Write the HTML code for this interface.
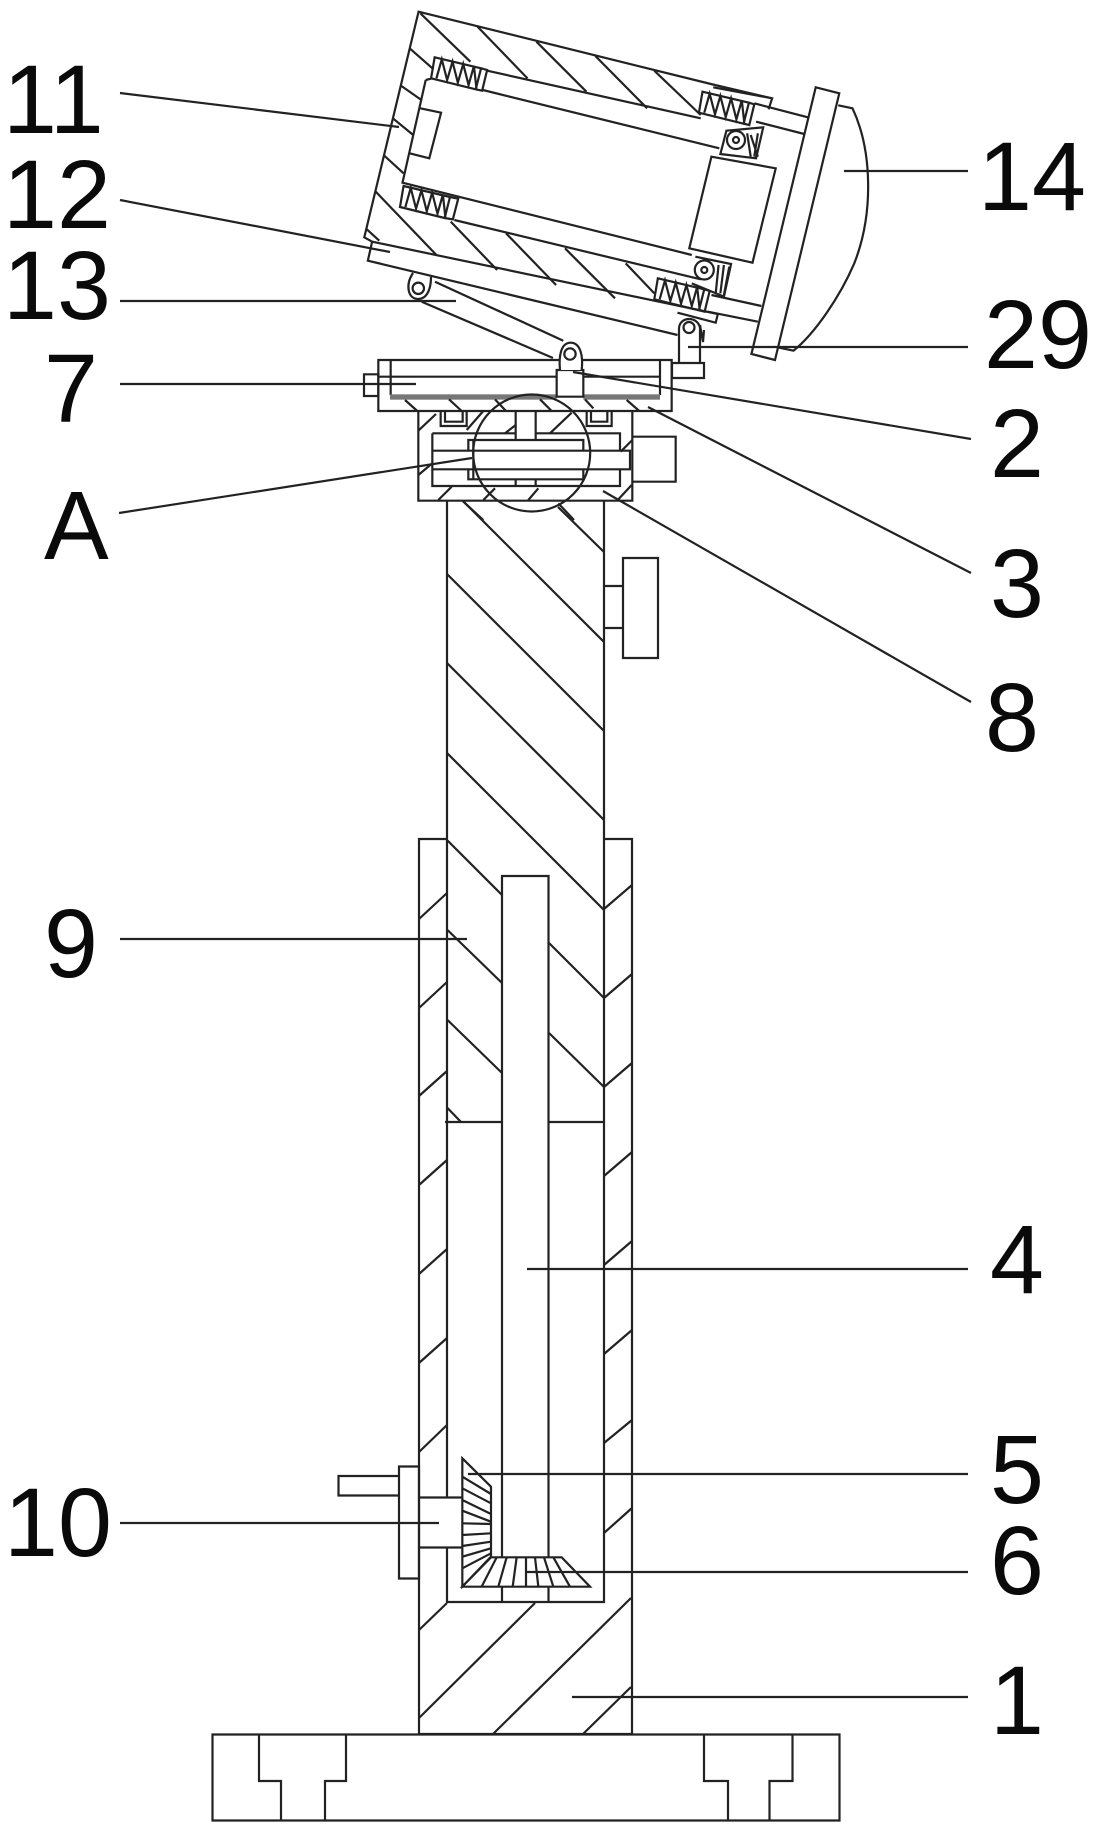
<!DOCTYPE html>
<html><head><meta charset="utf-8"><style>
html,body{margin:0;padding:0;background:#fff}
svg{display:block}
svg *{vector-effect:non-scaling-stroke}
.l{fill:none;stroke:#222;stroke-width:2.2;stroke-linejoin:miter}
.t{font-family:"Liberation Sans",sans-serif;font-size:97px;fill:#0a0a0a}
.ld{fill:none;stroke:#222;stroke-width:2.2}
</style></head><body>
<svg width="1100" height="1833" viewBox="0 0 1100 1833" xmlns="http://www.w3.org/2000/svg">
<rect width="1100" height="1833" fill="#fff"/>

<!-- Column and base -->
<g class="l">
<path d="M447,501V1497M447,1547V1602H604V501"/>
<path d="M419,1734V839H447M604,839H632V1734H419"/>
<path d="M502,1602V876H548.5V1602"/>
<path d="M445,1122H502M548,1122H604"/>
<path d="M212.5,1734.5H839.5V1820.5H212.5Z"/>
<path d="M259,1735V1781H281V1820M346,1735V1781H325V1820"/>
<path d="M704,1735V1781H728V1820M792.5,1735V1781H769.5V1820"/>
<!-- column hatch -->
<path d="M463,501L604,642M558,507L604,552M447,574L604,731M447,663L604,820M447,753L604,910M447.5,840.5L502,895M447.5,930L502,983M447.5,1020L502,1073M447.5,1108L461,1122M549,943L604,998M549,1033L604,1087"/>
<!-- outer wall hatch left -->
<path d="M419,919L447,893M419,1008L447,982M419,1096L447,1071M419,1185L447,1160M419,1274L447,1249M419,1363L447,1338M419,1452L447,1425M419,1630L447,1603"/>
<!-- outer wall hatch right -->
<path d="M604,909L632,885M604,998L632,974M604,1087L632,1063M604,1176L632,1152M604,1265L632,1241M604,1354L632,1330M604,1443L632,1420M604,1533L632,1508"/>
<!-- bottom hatch -->
<path d="M419,1718L535,1603M493,1734L631,1598M583,1734L631,1687"/>
<!-- knob on column -->
<path d="M604,586H623V628H604M623,558H658V658H623Z"/>
<!-- handle -->
<path d="M399,1466.5H419V1578.5H399ZM399,1476H338.5V1495.5H399M419,1497.5H462M419,1547.5H462"/>
</g>

<!-- Bevel gears in zoom coords -->
<g class="l" transform="translate(320,1420) scale(.33333)">
<path fill="#fff" d="M427,115L513,200V410L427,500Z"/>
<path fill="#fff" d="M427,500H810L725,412H513Z"/>
<path d="M427,170L513,222M427,205L513,250M427,240L513,282M427,272L513,305M427,310L513,312M427,345L513,340M427,378L513,365M427,410L513,385M427,445L513,400"/>
<path d="M485,500L530,412M535,500L560,412M578,500L590,412M618,500V412M655,500L645,412M700,500L672,412M750,500L700,412"/>
</g>

<!-- Platform and block, zoom 9 coords -->
<g class="l" transform="translate(370,340) scale(.33333)">
<path d="M25,60H905V213H25Z"/>
<path d="M62,60V165M870,60V165M25,110H560M640,110H870"/>
<path d="M-18,103H25V168H-18Z"/>
<rect x="60" y="163" width="500" height="16" fill="#777" stroke="none"/>
<rect x="640" y="163" width="230" height="16" fill="#777" stroke="none"/>
<path d="M105,180L142,213M237,178L275,213M375,178L408,213M510,178L545,213M645,178L670,205M770,180L808,213"/>
<path d="M145,213V482H787V213"/>
<path d="M187,280H437M497,280H750V332M187,280V438H750V388M187,332H780V388H187"/>
<path d="M295,332V300H640V332M295,388V418H640V388M295,418H640M310,300V418"/>
<path d="M437,213V300M497,213V300M437,418V438M497,418V438"/>
<path d="M787,290H917V425H787"/>
<path d="M212,213V258H290V213M225,213V245H278V213"/>
<path d="M650,213V258H725V213M663,213V245H712V213"/>
<path d="M198,222L145,272M340,213L290,270M437,255L405,280M605,218L540,280M787,300L752,335M187,370L145,405M245,440L205,480M375,445L340,480M505,445L475,480M785,435L745,478"/>
<path d="M279,484L340,540M565,490L612,540"/>
<path fill="#fff" d="M560,90H640V170H560Z"/>
<path fill="#fff" d="M570,90C566,50 572,8 602,8C632,8 640,50 635,90"/>
<circle cx="600" cy="42" r="17"/>
</g>
<circle class="l" cx="531.7" cy="453" r="58.5"/>

<!-- Head, zoom 1 coords -->
<g class="l" transform="translate(340,0) scale(.35714,.33333)">
<!-- housing -->
<path d="M1050,255L220,35L68,712L90,725"/>
<path d="M1045,262L1210,295L1200,328M1050,255L1210,295"/>
<path d="M90,725L1058,942L1052,968L945,938"/>
<path d="M90,725L78,782L945,1005"/>
<path d="M75,688L110,722"/>
<!-- hatch -->
<path d="M225,40L365,185M385,80L525,235M550,125L690,275M715,168L860,325M880,212L1010,345"/>
<path d="M195,145L262,208M172,258L228,300M148,355L205,405M122,465L178,520M100,575L270,765"/>
<path d="M310,665L440,810M465,700L605,855M630,745L770,895M800,790L880,880"/>
<!-- body -->
<path d="M412,212L1010,355M1160,310L1310,352M1165,365L1300,402"/>
<path d="M240,240L175,548L985,765M240,240L255,236M400,270L1062,445"/>
<path d="M320,660L1010,838M1040,885L1180,918M1030,935L1170,965"/>
<path d="M1040,470L1220,505L1155,788L978,745Z"/>
<path d="M225,325L283,338L250,475L195,460"/>
<!-- plate, lens -->
<path d="M1332,262L1398,280L1218,1080L1152,1062Z"/>
<path d="M1395,316L1435,325C1490,450 1495,640 1440,790C1400,890 1330,1000 1270,1052L1225,1042"/>
<!-- springs -->
<g>
<path d="M265,172L395,205L380,268L255,235Z"/>
<path d="M395,205L412,210L398,272L380,268"/>
<path d="M270,235L285,178L300,240L315,185L330,248L345,192L360,255L375,198L382,265"/>
</g>
<g transform="translate(-87,386)">
<path d="M265,172L395,205L380,268L255,235Z"/>
<path d="M395,205L418,210L403,272L380,268"/>
<path d="M270,235L285,178L300,240L315,185L330,248L345,192L360,255L375,198L382,265"/>
</g>
<g transform="translate(750,103)">
<path d="M265,172L395,205L380,268L255,235Z"/>
<path d="M395,205L410,210L396,272L380,268"/>
<path d="M270,235L285,178L300,240L315,185L330,248L345,192L360,255L375,198L382,265"/>
</g>
<g transform="translate(625,663)">
<path d="M265,172L395,205L380,268L255,235Z"/>
<path d="M395,205L410,210L396,272L380,268"/>
<path d="M270,235L285,178L300,240L315,185L330,248L345,192L360,255L375,198L382,265"/>
</g>
<!-- wheel pockets -->
<path d="M1082,392L1185,382L1165,475L1065,462Z"/>
<path d="M1140,400L1150,470M1150,405L1170,470M1170,400L1160,470"/>
<path d="M995,770L1095,792L1075,890L985,850"/>
<path d="M1060,795L1052,880M1075,795L1065,880M1090,800L1075,885"/>
</g>
<g class="l">
<circle cx="736" cy="140" r="9" fill="#fff"/><circle cx="736" cy="140" r="3"/>
<circle cx="704.3" cy="270" r="9.5" fill="#fff"/><circle cx="704.3" cy="270" r="3"/>
</g>

<!-- Bracket 29 and link lugs, true coords -->
<g class="l">
<path d="M679,362V328C680,316 698,316 700,328V362" fill="#fff"/>
<circle cx="689" cy="327.5" r="5.5"/>
<path d="M672,363H704V378H672Z"/>
<path d="M700,325L703,342L704,330"/>
<path d="M435,281.7L563.3,340.7M421.7,301.7L553,358"/>
<path d="M413,273C405,285 408,299 418,299C428,299 431,287 431,277"/>
<circle cx="418.3" cy="288.3" r="5.7"/>
</g>

<!-- Leaders -->
<g class="ld">
<path d="M120,93L399,127"/>
<path d="M120,200L390,252"/>
<path d="M120,301H456"/>
<path d="M120,384H416"/>
<path d="M119,513L472,458"/>
<path d="M120,939H467"/>
<path d="M120,1523H439"/>
<path d="M844,171H968"/>
<path d="M688,347H968"/>
<path d="M573,372L971,439"/>
<path d="M648,407L971,573"/>
<path d="M603,491L971,702"/>
<path d="M527,1269H968"/>
<path d="M468,1474H968"/>
<path d="M525,1572H968"/>
<path d="M572,1697H968"/>
</g>

<!-- Labels -->
<text class="t" x="3" y="133">11</text>
<text class="t" x="3" y="228">12</text>
<text class="t" x="3" y="319">13</text>
<text class="t" x="44" y="422">7</text>
<text class="t" x="44" y="559">A</text>
<text class="t" x="44" y="977">9</text>
<text class="t" x="4" y="1556">10</text>
<text class="t" x="978" y="210">14</text>
<text class="t" x="984" y="368">29</text>
<text class="t" x="990" y="477">2</text>
<text class="t" x="990" y="617">3</text>
<text class="t" x="985" y="751">8</text>
<text class="t" x="990" y="1293">4</text>
<text class="t" x="990" y="1503">5</text>
<text class="t" x="990" y="1594">6</text>
<text class="t" x="990" y="1734">1</text>
</svg>
</body></html>
